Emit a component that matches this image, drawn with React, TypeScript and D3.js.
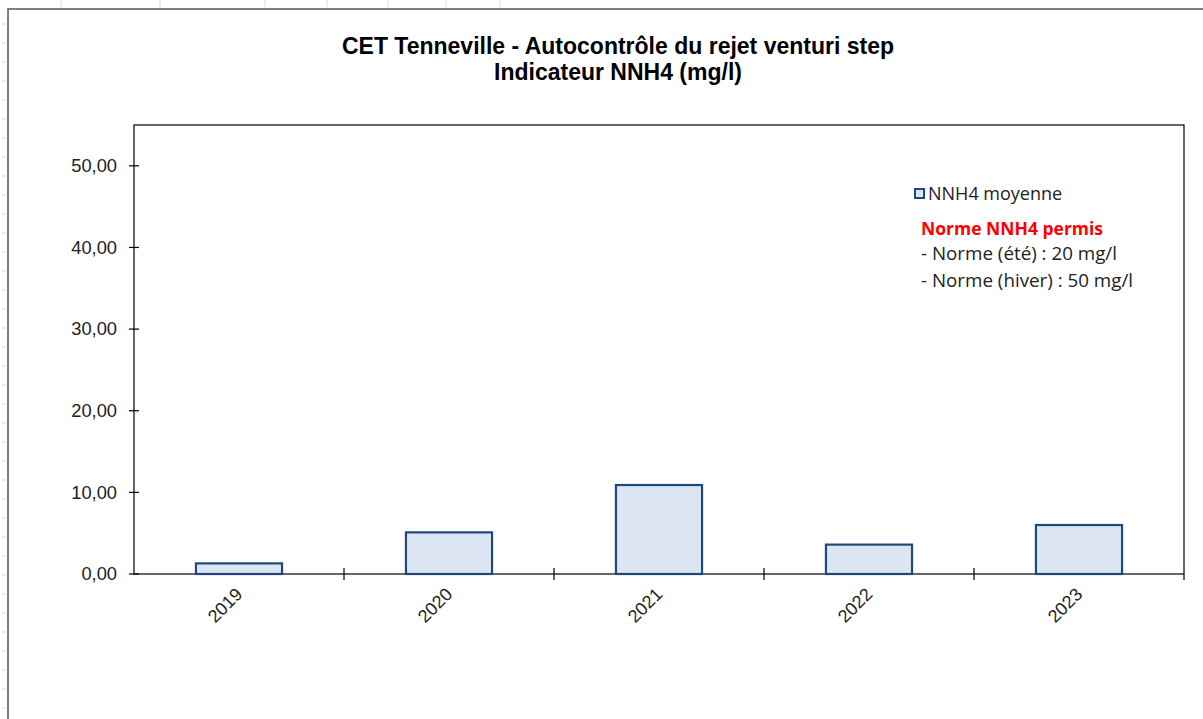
import React, { useEffect, useRef } from "react";
import * as d3 from "d3";

const years = ["2019", "2020", "2021", "2022", "2023"];
const values = [1.3, 5.1, 10.9, 3.6, 6.0];
const yTicks = [0, 10, 20, 30, 40, 50];
const yMax = 55;
const titleLines = ["CET Tenneville - Autocontrôle du rejet venturi step", "Indicateur NNH4 (mg/l)"];
const legendLabel = "NNH4 moyenne";
const noteTitle = "Norme NNH4 permis";
const noteLines = ["- Norme (été) : 20 mg/l", "- Norme (hiver) : 50 mg/l"];

const W = 1203, H = 719;
const plot = { left: 134, right: 1184, top: 125, bottom: 574 };

export default function App() {
  const ref = useRef<SVGSVGElement>(null);
  useEffect(() => {
    const svg = d3.select(ref.current);
    svg.selectAll("*").remove();

    const grid = svg.append("g").attr("stroke", "#d9d9d9").attr("stroke-width", 1);
    [61, 160, 265, 327, 388, 446, 500].forEach((x) => {
      grid.append("line").attr("x1", x).attr("x2", x).attr("y1", 0).attr("y2", 7);
    });
    d3.range(24, H, 19).forEach((y) => {
      grid.append("line").attr("x1", 2).attr("x2", 6).attr("y1", y).attr("y2", y);
    });

    svg.append("rect").attr("x", 8).attr("y", 9).attr("width", W).attr("height", H)
      .attr("fill", "#fff").attr("stroke", "#555").attr("stroke-width", 1.5);

    const x = d3.scaleBand<string>().domain(years).range([plot.left, plot.right]).padding(0);
    const y = d3.scaleLinear().domain([0, yMax]).range([plot.bottom, plot.top]);

    svg.append("rect").attr("x", plot.left).attr("y", plot.top)
      .attr("width", plot.right - plot.left).attr("height", plot.bottom - plot.top)
      .attr("fill", "none").attr("stroke", "#000").attr("stroke-width", 1.2);

    const bw = x.bandwidth();
    const barW = bw * 0.41;
    svg.append("g").selectAll("rect").data(values).join("rect")
      .attr("x", (_, i) => (x(years[i]) as number) + (bw - barW) / 2)
      .attr("y", (d) => y(d))
      .attr("width", barW)
      .attr("height", (d) => y(0) - y(d))
      .attr("fill", "#dce6f2")
      .attr("stroke", "#1f497d")
      .attr("stroke-width", 2.2);

    const ya = svg.append("g");
    yTicks.forEach((t) => {
      ya.append("line").attr("x1", plot.left - 5).attr("x2", plot.left + 5)
        .attr("y1", y(t)).attr("y2", y(t)).attr("stroke", "#000").attr("stroke-width", 1.2);
      ya.append("text").attr("x", plot.left - 17).attr("y", y(t)).attr("dy", "0.35em")
        .attr("text-anchor", "end").attr("font-family", "Liberation Sans, Arial, sans-serif")
        .attr("font-size", 18.3).attr("fill", "#222")
        .text(d3.format(".2f")(t).replace(".", ","));
    });

    const xa = svg.append("g");
    years.slice(1).forEach((yr) => {
      const xx = x(yr) as number;
      xa.append("line").attr("x1", xx).attr("x2", xx).attr("y1", plot.bottom - 6).attr("y2", plot.bottom + 6)
        .attr("stroke", "#000").attr("stroke-width", 1.2);
    });
    xa.append("line").attr("x1", plot.right).attr("x2", plot.right).attr("y1", plot.bottom).attr("y2", plot.bottom + 6)
      .attr("stroke", "#000").attr("stroke-width", 1.2);
    years.forEach((yr) => {
      const cx = (x(yr) as number) + bw / 2;
      xa.append("text").attr("transform", `translate(${cx},${plot.bottom + 17}) rotate(-45)`)
        .attr("text-anchor", "end").attr("dy", "0.35em")
        .attr("font-family", "Liberation Sans, Arial, sans-serif").attr("font-size", 18).attr("fill", "#222")
        .text(yr);
    });

    titleLines.forEach((t, i) => {
      svg.append("text").attr("x", 618).attr("y", 54 + i * 26).attr("text-anchor", "middle")
        .attr("font-family", "Liberation Sans, Arial, sans-serif").attr("font-weight", "bold")
        .attr("font-size", 23).attr("fill", "#000").text(t);
    });

    svg.append("rect").attr("x", 915).attr("y", 189).attr("width", 9).attr("height", 9)
      .attr("fill", "#dce6f2").attr("stroke", "#1f497d").attr("stroke-width", 2);
    svg.append("text").attr("x", 928).attr("y", 200).attr("font-family", "Open Sans, sans-serif")
      .attr("font-size", 18).attr("fill", "#222").text(legendLabel);

    svg.append("text").attr("x", 921).attr("y", 235).attr("font-family", "Open Sans, sans-serif")
      .attr("font-size", 17.5).attr("font-weight", "bold").attr("fill", "#ff0000").text(noteTitle);
    noteLines.forEach((t, i) => {
      svg.append("text").attr("x", 921).attr("y", 260 + i * 27).attr("font-family", "Open Sans, sans-serif")
        .attr("font-size", 18.8).attr("fill", "#222").text(t);
    });
  }, []);

  return (
    <svg ref={ref} width={W} height={H}
      style={{ position: "absolute", left: 0, top: 0, background: "#fff", display: "block" }} />
  );
}
